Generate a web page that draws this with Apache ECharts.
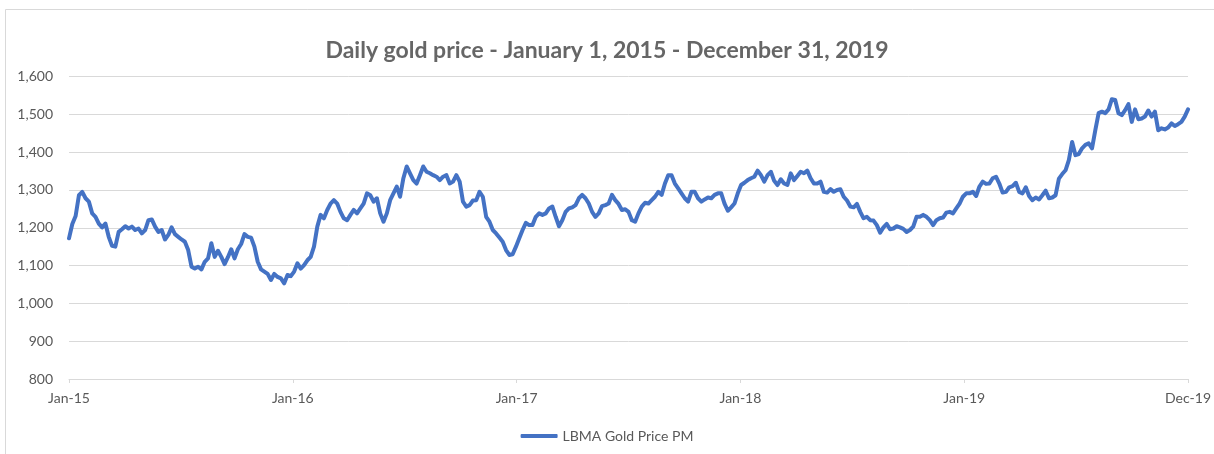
<!DOCTYPE html>
<html>
<head>
<meta charset="utf-8">
<title>Daily gold price</title>
<script src="https://cdn.jsdelivr.net/npm/echarts@6/dist/echarts.min.js"></script>
<style>
html, body { margin: 0; padding: 0; background: #fff; }
#mainChart { width: 1214px; height: 454px; }
</style>
</head>
<body>
<div id="mainChart"></div>
<script>
// LBMA Gold Price PM, evenly spaced from 1 Jan 2015 to 31 Dec 2019
var prices = [
 1172,1210,1231,1286,1295,1278,1269,1238,1229,1211,1201,1211,1176,1152,1150,1189,1196,1204,1198,1203,
 1194,1198,1185,1194,1220,1222,1203,1189,1194,1169,1181,1201,1183,1176,1169,1163,1141,1097,1092,1097,
 1090,1110,1119,1159,1123,1139,1123,1104,1122,1143,1119,1143,1157,1183,1176,
 1174,1150,1110,1090,1084,1078,1062,1078,1070,1066,1053,1075,1072,1084,1106,1092,1101,1114,1123,1150,
 1203,1234,1225,1247,1264,1273,1264,1242,1225,1220,1234,1247,1238,1251,1264,1291,1286,1269,1278,1238,
 1216,1238,1273,1291,1309,1282,1331,1362,1344,1326,1317,1339,1362,1348,1344,1339,1335,
 1326,1335,1339,1317,1322,1339,1322,1269,1256,1260,1272,1273,1295,1282,1229,1216,1194,1185,1174,1163,
 1141,1128,1130,1150,1172,1194,1213,1207,1207,1229,1238,1234,1238,1251,1256,1229,1204,1220,1242,1251,
 1254,1260,1278,1287,1278,1264,1242,1229,1238,1257,1260,1264,1287,1273,1263,1247,1249,
 1242,1220,1216,1238,1256,1266,1264,1273,1282,1295,1287,1317,1339,1339,1317,1304,1291,1278,1269,1295,
 1295,1278,1269,1275,1280,1278,1287,1291,1291,1264,1245,1254,1264,1291,1313,1319,1326,1331,1335,1351,
 1339,1322,1339,1348,1324,1313,1328,1317,1313,1344,1326,1337,1348,1344,1351,1331,1317,
 1317,1322,1295,1293,1302,1295,1300,1302,1282,1272,1256,1254,1263,1242,1225,1229,1220,1219,1207,1187,
 1201,1210,1196,1198,1204,1201,1197,1189,1194,1203,1229,1229,1234,1229,1220,1207,1220,1225,1227,1240,
 1242,1238,1251,1264,1282,1291,1291,1295,1284,1309,1322,1316,1317,1331,1335,1317,1293,
 1295,1307,1310,1319,1295,1291,1307,1284,1273,1280,1275,1286,1298,1278,1280,1286,1330,1342,1352,1379,
 1427,1392,1395,1410,1419,1423,1410,1458,1503,1507,1503,1513,1540,1538,1503,1498,1511,1527,1480,1513,
 1487,1489,1494,1510,1494,1507,1458,1463,1460,1465,1476,1469,1474,1480,1494,1513
];
// x is days since 1 Jan 2015; 31 Dec 2019 is day 1825
var totalDays = 1825;
var yearDays = 365;

// x axis labels (Excel style date labels), one per year tick
var tickLabels = ["Jan-15", "Jan-16", "Jan-17", "Jan-18", "Jan-19", "Dec-19"];

var seriesName = "LBMA Gold Price PM";
var chartTitle = "Daily gold price - January 1, 2015 - December 31, 2019";

function buildData() {
	var list = [];
	var step = totalDays / (prices.length - 1);
	for (var i = 0; i < prices.length; i++) {
		list.push([i * step, prices[i]]);
	}
	return list;
}

var myChart = echarts.init(document.getElementById('mainChart'));
var option = {
	animation: false,
	backgroundColor: '#ffffff',
	textStyle: { fontFamily: 'Lato' },
	title: {
		text: chartTitle,
		left: 'center',
		top: 34,
		textStyle: { fontFamily: 'Lato', fontSize: 23, fontWeight: 'bold', color: '#666666' }
	},
	graphic: [{
		type: 'rect',
		shape: { x: 5.5, y: 9.5, width: 1220, height: 460 },
		style: { fill: 'none', stroke: '#d9d9d9', lineWidth: 1 },
		silent: true
	}],
	legend: {
		data: [seriesName],
		bottom: 6,
		left: 'center',
		icon: 'roundRect',
		itemWidth: 37,
		itemHeight: 4,
		itemGap: 10,
		textStyle: { fontFamily: 'Lato', fontSize: 14, color: '#595959' }
	},
	grid: { left: 69, right: 18, top: 76.5, bottom: 75, containLabel: false },
	xAxis: {
		type: 'value',
		min: 0,
		max: totalDays,
		interval: yearDays,
		axisLine: { show: true, onZero: false, lineStyle: { color: '#d9d9d9', width: 1 } },
		axisTick: { show: true, length: 4, lineStyle: { color: '#d9d9d9' } },
		axisLabel: {
			margin: 12,
			fontFamily: 'Lato',
			fontSize: 14,
			color: '#595959',
			showMinLabel: true,
			showMaxLabel: true,
			formatter: function (val) {
				var idx = Math.round(val / yearDays);
				return tickLabels[idx] || "";
			}
		},
		splitLine: { show: false }
	},
	yAxis: {
		type: 'value',
		min: 800,
		max: 1600,
		interval: 100,
		axisLine: { show: false },
		axisTick: { show: false },
		axisLabel: {
			margin: 16,
			fontFamily: 'Lato',
			fontSize: 14,
			color: '#595959',
			formatter: function (val) { return val.toLocaleString('en-US'); }
		},
		splitLine: { lineStyle: { color: '#d9d9d9', width: 1 } }
	},
	series: [{
		name: seriesName,
		type: 'line',
		data: buildData(),
		showSymbol: false,
		symbol: 'none',
		lineStyle: { color: '#4472C4', width: 4, join: 'round', cap: 'round' },
		itemStyle: { color: '#4472C4' }
	}]
};
myChart.setOption(option);
</script>
</body>
</html>
